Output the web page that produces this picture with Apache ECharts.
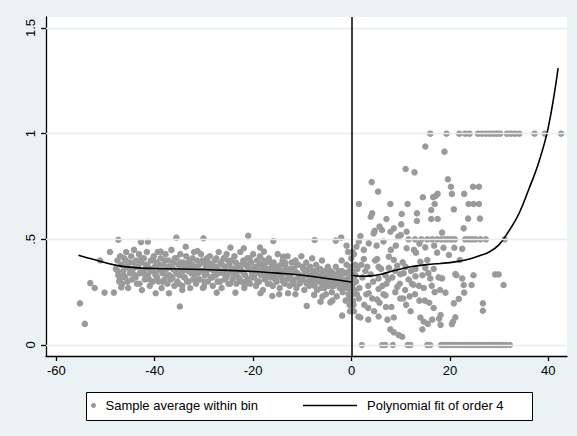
<!DOCTYPE html>
<html>
<head>
<meta charset="utf-8">
<script src="https://cdn.jsdelivr.net/npm/echarts@6/dist/echarts.min.js"></script>
<style>
  html, body { margin: 0; padding: 0; background: #EAF2F3; }
  #chart { width: 577px; height: 436px; }
</style>
</head>
<body>
<div id="chart"></div>
<script>
// Axis ticks and labels
const xTicks = [-60, -40, -20, 0, 20, 40];
const yTicks = [0, 0.5, 1, 1.5];

// Binned sample averages, left of the cutoff (x < 0)
const leftBins = [
  [-55.2,0.197],[-54.2,0.10],[-53.1,0.293],[-52.2,0.27],[-51.1,0.40],[-50.2,0.248],[-49.1,0.44],[-48.3,0.248],
  [-47.4,0.498],[-46.8,0.273],[-42.8,0.487],[-41.4,0.489],[-39.8,0.245],[-38.8,0.442],[-37.1,0.245],[-35.6,0.508],
  [-34.9,0.182],[-34.4,0.26],[-33.7,0.465],[-31.3,0.445],[-30.1,0.505],[-30.0,0.276],[-27.4,0.248],[-24.6,0.461],
  [-23.6,0.248],[-21.9,0.458],[-21.7,0.284],[-21.0,0.517],[-18.6,0.461],[-18.5,0.245],[-17.8,0.442],[-16.1,0.232],
  [-15.9,0.492],[-14.7,0.24],[-13.9,0.418],[-12.9,0.245],[-11.4,0.24],[-9.1,0.185],[-7.6,0.237],[-7.5,0.497],
  [-6.3,0.205],[-5.9,0.229],[-4.3,0.202],[-3.9,0.21],[-3.2,0.494],[-2.1,0.508],[-1.9,0.139],[-1.0,0.47],
  [-47.9,0.36],[-47.6,0.40],[-47.4,0.33],[-47.2,0.30],[-47.0,0.42],[-46.8,0.38],[-46.6,0.29],[-46.4,0.35],[-46.2,0.41],[-46.0,0.32],
  [-45.8,0.44],[-45.6,0.37],[-45.4,0.27],[-45.2,0.39],[-45.0,0.34],[-44.8,0.42],[-44.6,0.31],[-44.4,0.36],[-44.2,0.45],[-44.0,0.33],
  [-43.8,0.40],[-43.6,0.29],[-43.4,0.37],[-43.2,0.43],[-43.0,0.34],[-42.8,0.39],[-42.6,0.26],[-42.4,0.35],[-42.2,0.41],[-42.0,0.31],
  [-41.8,0.38],[-41.6,0.44],[-41.4,0.33],[-41.2,0.36],[-41.0,0.28],[-40.8,0.40],[-40.6,0.35],[-40.4,0.30],[-40.2,0.42],[-40.0,0.37],
  [-39.8,0.33],[-39.6,0.39],[-39.4,0.44],[-39.2,0.30],[-39.0,0.36],[-38.8,0.41],[-38.6,0.27],[-38.4,0.34],[-38.2,0.38],[-38.0,0.31],
  [-37.8,0.43],[-37.6,0.36],[-37.4,0.29],[-37.2,0.40],[-37.0,0.33],[-36.8,0.37],[-36.6,0.45],[-36.4,0.32],[-36.2,0.39],[-36.0,0.28],
  [-35.8,0.35],[-35.6,0.41],[-35.4,0.30],[-35.2,0.38],[-35.0,0.33],[-34.8,0.43],[-34.6,0.36],[-34.4,0.28],[-34.2,0.39],[-34.0,0.32],
  [-33.8,0.37],[-33.6,0.42],[-33.4,0.30],[-33.2,0.35],[-33.0,0.40],[-32.8,0.27],[-32.6,0.34],[-32.4,0.38],[-32.2,0.31],[-32.0,0.44],
  [-31.8,0.36],[-31.6,0.29],[-31.4,0.40],[-31.2,0.34],[-31.0,0.38],[-30.8,0.31],[-30.6,0.43],[-30.4,0.35],[-30.2,0.27],[-30.0,0.39],
  [-29.8,0.33],[-29.6,0.37],[-29.4,0.41],[-29.2,0.30],[-29.0,0.36],[-28.8,0.42],[-28.6,0.32],[-28.4,0.38],[-28.2,0.28],[-28.0,0.35],
  [-27.8,0.40],[-27.6,0.33],[-27.4,0.37],[-27.2,0.30],[-27.0,0.44],[-26.8,0.35],[-26.6,0.39],[-26.4,0.27],[-26.2,0.34],[-26.0,0.41],
  [-25.8,0.31],[-25.6,0.37],[-25.4,0.43],[-25.2,0.33],[-25.0,0.29],[-24.8,0.38],[-24.6,0.35],[-24.4,0.40],[-24.2,0.31],[-24.0,0.36],
  [-23.8,0.42],[-23.6,0.34],[-23.4,0.29],[-23.2,0.38],[-23.0,0.32],[-22.8,0.36],[-22.6,0.44],[-22.4,0.30],[-22.2,0.35],[-22.0,0.40],
  [-21.8,0.27],[-21.6,0.33],[-21.4,0.38],[-21.2,0.41],[-21.0,0.31],[-20.8,0.36],[-20.6,0.29],[-20.4,0.39],[-20.2,0.34],[-20.0,0.43],
  [-19.8,0.32],[-19.6,0.37],[-19.4,0.28],[-19.2,0.40],[-19.0,0.35],[-18.8,0.30],[-18.6,0.42],[-18.4,0.33],[-18.2,0.38],[-18.0,0.26],
  [-17.8,0.36],[-17.6,0.31],[-17.4,0.39],[-17.2,0.34],[-17.0,0.29],[-16.8,0.41],[-16.6,0.35],[-16.4,0.32],[-16.2,0.37],[-16.0,0.28],
  [-15.8,0.39],[-15.6,0.33],[-15.4,0.36],[-15.2,0.30],[-15.0,0.43],[-14.8,0.35],[-14.6,0.27],[-14.4,0.38],[-14.2,0.32],[-14.0,0.40],
  [-13.8,0.34],[-13.6,0.29],[-13.4,0.37],[-13.2,0.31],[-13.0,0.42],[-12.8,0.35],[-12.6,0.28],[-12.4,0.33],[-12.2,0.39],[-12.0,0.30],
  [-11.8,0.36],[-11.6,0.31],[-11.4,0.40],[-11.2,0.27],[-11.0,0.34],[-10.8,0.38],[-10.6,0.29],[-10.4,0.33],[-10.2,0.42],[-10.0,0.31],
  [-9.8,0.36],[-9.6,0.26],[-9.4,0.35],[-9.2,0.39],[-9.0,0.30],[-8.8,0.33],[-8.6,0.28],[-8.4,0.37],[-8.2,0.32],[-8.0,0.41],
  [-7.8,0.29],[-7.6,0.35],[-7.4,0.31],[-7.2,0.38],[-7.0,0.26],[-6.8,0.33],[-6.6,0.30],[-6.4,0.36],[-6.2,0.27],[-6.0,0.40],
  [-5.8,0.32],[-5.6,0.29],[-5.4,0.35],[-5.2,0.24],[-5.0,0.31],[-4.8,0.37],[-4.6,0.28],[-4.4,0.33],[-4.2,0.30],[-4.0,0.25],
  [-3.8,0.34],[-3.6,0.28],[-3.4,0.31],[-3.2,0.37],[-3.0,0.23],[-2.8,0.30],[-2.6,0.35],[-2.4,0.27],[-2.2,0.32],[-2.0,0.40],
  [-1.8,0.25],[-1.6,0.29],[-1.4,0.34],[-1.2,0.21],[-1.0,0.38],[-0.9,0.27],[-0.8,0.31],[-0.7,0.44],[-0.6,0.24],[-0.5,0.35],
  [-0.4,0.19],[-0.3,0.29],[-0.2,0.33],[-0.1,0.26],[-0.05,0.41],[-0.3,0.16],[-0.5,0.22],[-0.2,0.37],
  [-47.5,0.35],[-47.1,0.31],[-46.7,0.38],[-46.3,0.33],[-45.9,0.40],[-45.5,0.30],[-45.1,0.36],[-44.7,0.34],[-44.3,0.39],[-43.9,0.32],
  [-43.5,0.37],[-43.1,0.29],[-42.7,0.41],[-42.3,0.35],[-41.9,0.33],[-41.5,0.38],[-41.1,0.31],[-40.7,0.36],[-40.3,0.40],[-39.9,0.34],
  [-39.5,0.32],[-39.1,0.38],[-38.7,0.35],[-38.3,0.30],[-37.9,0.40],[-37.5,0.33],[-37.1,0.37],[-36.7,0.31],[-36.3,0.36],[-35.9,0.41],
  [-35.5,0.34],[-35.1,0.29],[-34.7,0.39],[-34.3,0.35],[-33.9,0.32],[-33.5,0.38],[-33.1,0.30],[-32.7,0.36],[-32.3,0.41],[-31.9,0.33],
  [-31.5,0.37],[-31.1,0.31],[-30.7,0.35],[-30.3,0.40],[-29.9,0.30],[-29.5,0.34],[-29.1,0.39],[-28.7,0.36],[-28.3,0.32],[-27.9,0.37],
  [-27.5,0.41],[-27.1,0.34],[-26.7,0.30],[-26.3,0.38],[-25.9,0.35],[-25.5,0.32],[-25.1,0.40],[-24.7,0.29],[-24.3,0.36],[-23.9,0.33],
  [-23.5,0.39],[-23.1,0.35],[-22.7,0.31],[-22.3,0.38],[-21.9,0.34],[-21.5,0.30],[-21.1,0.37],[-20.7,0.41],[-20.3,0.32],[-19.9,0.36],
  [-19.5,0.34],[-19.1,0.30],[-18.7,0.38],[-18.3,0.35],[-17.9,0.40],[-17.5,0.32],[-17.1,0.36],[-16.7,0.29],[-16.3,0.39],[-15.9,0.34],
  [-15.5,0.31],[-15.1,0.37],[-14.7,0.33],[-14.3,0.35],[-13.9,0.30],[-13.5,0.39],[-13.1,0.34],[-12.7,0.32],[-12.3,0.36],[-11.9,0.29],
  [-11.5,0.35],[-11.1,0.38],[-10.7,0.32],[-10.3,0.30],[-9.9,0.37],[-9.5,0.33],[-9.1,0.29],[-8.7,0.36],[-8.3,0.31],[-7.9,0.34],
  [-7.5,0.28],[-7.1,0.33],[-6.7,0.36],[-6.3,0.30],[-5.9,0.34],[-5.5,0.27],[-5.1,0.33],[-4.7,0.30],[-4.3,0.35],[-3.9,0.28],
  [-3.5,0.32],[-3.1,0.29],[-2.7,0.33],[-2.3,0.30],[-1.9,0.35],[-1.5,0.27],[-1.1,0.31],[-0.7,0.29],[-0.3,0.33]
];

// Right of the cutoff: bins whose average is exactly 1, 0.5 or 0
const rightOnesX = [16.0,19.3,21.9,23.1,24.0,25.7,26.5,27.3,28.1,28.8,29.5,30.2,31.6,32.4,33.2,34.1,37.2,39.3,42.6];
const rightHalfX = [11.6,12.9,14.2,15.4,16.4,17.4,18.2,18.9,19.6,20.3,21.0,23.1,23.8,24.5,25.2,26.2,27.3,31.1];
const rightZeroX = [2.1,6.2,6.9,8.4,11.4,12.0,15.4,16.0,18.2,18.8,19.4,20.0,20.6,21.2,21.8,22.4,23.0,23.6,24.2,24.8,
  25.4,26.0,26.6,27.2,27.8,28.4,29.0,29.6,30.2,30.8,31.4,32.2];

// Right of the cutoff: remaining bins
const rightBins = [
  [11.0,0.833],[12.8,0.817],[4.1,0.771],[5.4,0.726],[15.0,0.939],[18.9,0.915],[19.6,0.784],[20.2,0.749],[24.7,0.749],[25.9,0.749],
  [20.4,0.715],[22.9,0.715],[17.5,0.715],[17.1,0.705],[16.6,0.70],[14.5,0.699],[23.8,0.667],[24.8,0.667],[25.9,0.667],[20.8,0.642],
  [16.2,0.639],[1.5,0.667],[7.9,0.667],[11.4,0.667],[16.9,0.667],[13.3,0.623],[10.2,0.62],[4.2,0.623],[3.9,0.607],[7.1,0.596],
  [13.3,0.587],[16.2,0.596],[17.5,0.596],[23.7,0.598],[26.1,0.598],[22.8,0.552],[18.4,0.532],[8.6,0.552],[5.7,0.56],[6.2,0.544],
  [4.7,0.54],[7.9,0.536],[11.2,0.536],[10.1,0.571],[1.8,0.516],[9.5,0.513],[4.5,0.528],[10.0,0.52],
  [3.5,0.481],[1.0,0.465],[2.5,0.45],[5.1,0.47],[11.2,0.458],[12.7,0.45],[15.0,0.462],[13.1,0.437],[17.4,0.437],[7.6,0.418],
  [8.6,0.402],[10.4,0.391],[5.2,0.407],[2.5,0.407],[0.8,0.379],[14.0,0.394],[15.4,0.402],[18.7,0.46],[20.9,0.46],[22.5,0.455],
  [19.8,0.426],[22.0,0.402],[6.5,0.49],[9.0,0.47],[8.0,0.45],[13.8,0.48],[16.8,0.47],[0.5,0.43],[1.5,0.49],
  [3.2,0.37],[5.5,0.37],[7.6,0.365],[9.3,0.375],[11.0,0.37],[13.0,0.36],[15.0,0.365],[16.7,0.36],
  [0.8,0.33],[2.2,0.32],[3.9,0.335],[5.5,0.315],[6.9,0.33],[8.3,0.32],[9.9,0.335],[11.6,0.31],[13.0,0.325],[14.4,0.33],
  [16.0,0.315],[17.7,0.32],[18.4,0.315],[21.3,0.33],[22.5,0.315],[24.8,0.33],[29.2,0.334],[29.9,0.334],[21.1,0.336],
  [22.8,0.284],[24.4,0.284],[30.9,0.284],
  [0.3,0.29],[1.6,0.27],[3.4,0.28],[5.5,0.265],[7.1,0.29],[9.3,0.275],[10.9,0.26],[12.6,0.285],[14.7,0.27],[16.3,0.28],[18.0,0.26],
  [0.2,0.24],[1.5,0.22],[3.5,0.245],[5.2,0.215],[6.9,0.235],[8.9,0.25],[10.5,0.22],[12.9,0.24],[14.9,0.21],[16.9,0.25],
  [19.1,0.248],[22.9,0.248],[21.8,0.218],[20.8,0.197],[26.7,0.197],[26.7,0.162],
  [0.4,0.19],[3.4,0.175],[5.7,0.2],[8.1,0.18],[11.1,0.19],[16.7,0.175],
  [1.8,0.13],[3.4,0.12],[5.5,0.135],[7.3,0.12],[8.6,0.13],[14.0,0.13],[14.7,0.11],[15.5,0.1],[16.4,0.12],[17.8,0.125],
  [18.1,0.142],[18.1,0.095],[21.1,0.131],[20.6,0.11],[20.4,0.099],[1.4,0.134],
  [7.9,0.074],[8.6,0.06],[9.6,0.047],[10.3,0.039],[14.4,0.074],
  [0.2,0.35],[0.4,0.31],[0.6,0.26],[0.3,0.21],[0.7,0.38],[0.5,0.16],[0.9,0.30],[1.2,0.36],[1.1,0.24],[0.2,0.44],[0.1,0.28],
  [2.0,0.38],[2.8,0.35],[4.4,0.30],[4.8,0.40],[6.0,0.36],[6.3,0.28],[7.5,0.31],[8.9,0.35],[9.8,0.29],[10.6,0.34],
  [12.1,0.35],[12.3,0.29],[13.7,0.28],[15.6,0.34],[3.0,0.24],[4.2,0.22],[6.5,0.24],[9.9,0.22],[11.8,0.23],[13.8,0.21],
  [2.6,0.19],[4.6,0.16],[7.0,0.18],[12.0,0.16],[15.8,0.2]
];

// Fourth-order polynomial fits on each side of the cutoff
const fitLeft = [
  [-55.5,0.425],[-52,0.402],[-48,0.378],[-44,0.366],[-40,0.362],[-35,0.36],[-30,0.357],[-25,0.353],
  [-20,0.348],[-15,0.34],[-10,0.33],[-5,0.315],[0,0.298]
];
const fitRight = [
  [0,0.33],[2,0.325],[4,0.327],[6,0.335],[8,0.348],[10,0.36],[12,0.37],[14,0.377],[16,0.382],[18,0.386],
  [20,0.39],[22,0.397],[24,0.407],[26,0.422],[28,0.44],[30,0.475],[32,0.54],[34,0.62],[36,0.735],[38,0.86],
  [40,1.03],[42,1.31]
];

const scatterData = leftBins
  .concat(rightBins)
  .concat(rightOnesX.map(x => [x, 1]))
  .concat(rightHalfX.map(x => [x, 0.5]))
  .concat(rightZeroX.map(x => [x, 0]));

const FONT = "'Liberation Sans', Arial, sans-serif";
const DOT = '#9a9a9a';
const FIT_NAME = 'Polynomial fit of order 4';
const DOT_NAME = 'Sample average within bin';

const chart = echarts.init(document.getElementById('chart'), null, { renderer: 'svg' });
chart.setOption({
  animation: false,
  backgroundColor: '#EAF2F3',
  grid: { left: 46, top: 17, right: 10, bottom: 80, show: true, backgroundColor: '#ffffff', borderWidth: 0 },
  xAxis: {
    type: 'value', min: -62.1, max: 43.8,
    axisLine: { show: true, onZero: false, lineStyle: { color: '#000', width: 1.3 } },
    axisTick: { show: true, length: 5, customValues: xTicks, lineStyle: { color: '#000', width: 1.3 } },
    axisLabel: { customValues: xTicks, color: '#000', fontFamily: FONT, fontSize: 13, margin: 8 },
    splitLine: { show: false }
  },
  yAxis: {
    type: 'value', min: -0.052, max: 1.552,
    axisLine: { show: true, onZero: false, lineStyle: { color: '#000', width: 1.3 } },
    axisTick: { show: true, length: 5, customValues: yTicks, lineStyle: { color: '#000', width: 1.3 } },
    axisLabel: {
      customValues: yTicks, rotate: 90, color: '#000', fontFamily: FONT, fontSize: 13, margin: 9,
      formatter: v => String(v).replace(/^0\./, '.')
    },
    splitLine: { show: false }
  },
  legend: [
    {
      data: [{ name: DOT_NAME, icon: 'circle' }],
      left: 91, top: 399, padding: 0, itemWidth: 14, itemHeight: 5,
      textStyle: { color: '#000', fontFamily: FONT, fontSize: 13 },
      selectedMode: false
    },
    {
      data: [{ name: FIT_NAME, icon: 'path://M0,0H54V1.6H0Z' }],
      left: 303, top: 399, padding: 0, itemWidth: 54, itemHeight: 14,
      textStyle: { color: '#000', fontFamily: FONT, fontSize: 13, padding: [0, 0, 0, 5] },
      selectedMode: false
    }
  ],
  graphic: [{
    type: 'rect', z: -1, silent: true,
    shape: { x: 86.5, y: 392.5, width: 446, height: 28 },
    style: { fill: '#ffffff', stroke: '#000', lineWidth: 1 }
  }],
  series: [
    {
      // horizontal grid lines at each y tick
      type: 'line', data: [], z: 1, silent: true,
      markLine: {
        silent: true, symbol: ['none', 'none'], label: { show: false },
        lineStyle: { color: '#E4EEF0', width: 1.3, type: 'solid' },
        data: yTicks.map(v => ({ yAxis: v }))
      }
    },
    {
      name: DOT_NAME, type: 'scatter', z: 2, data: scatterData,
      symbol: 'circle', symbolSize: 6.5,
      itemStyle: { color: DOT, opacity: 1 }
    },
    {
      name: FIT_NAME, type: 'line', z: 3, data: fitLeft, smooth: 0.4,
      symbol: 'none', showSymbol: false,
      lineStyle: { color: '#000', width: 1.6 }, itemStyle: { color: '#000' }
    },
    {
      name: FIT_NAME, type: 'line', z: 3, data: fitRight, smooth: 0.4,
      symbol: 'none', showSymbol: false,
      lineStyle: { color: '#000', width: 1.6 }, itemStyle: { color: '#000' },
      markLine: {
        silent: true, symbol: ['none', 'none'], label: { show: false },
        lineStyle: { color: '#000', width: 1.5, type: 'solid' },
        data: [{ xAxis: 0 }]
      }
    }
  ]
});
</script>
</body>
</html>
